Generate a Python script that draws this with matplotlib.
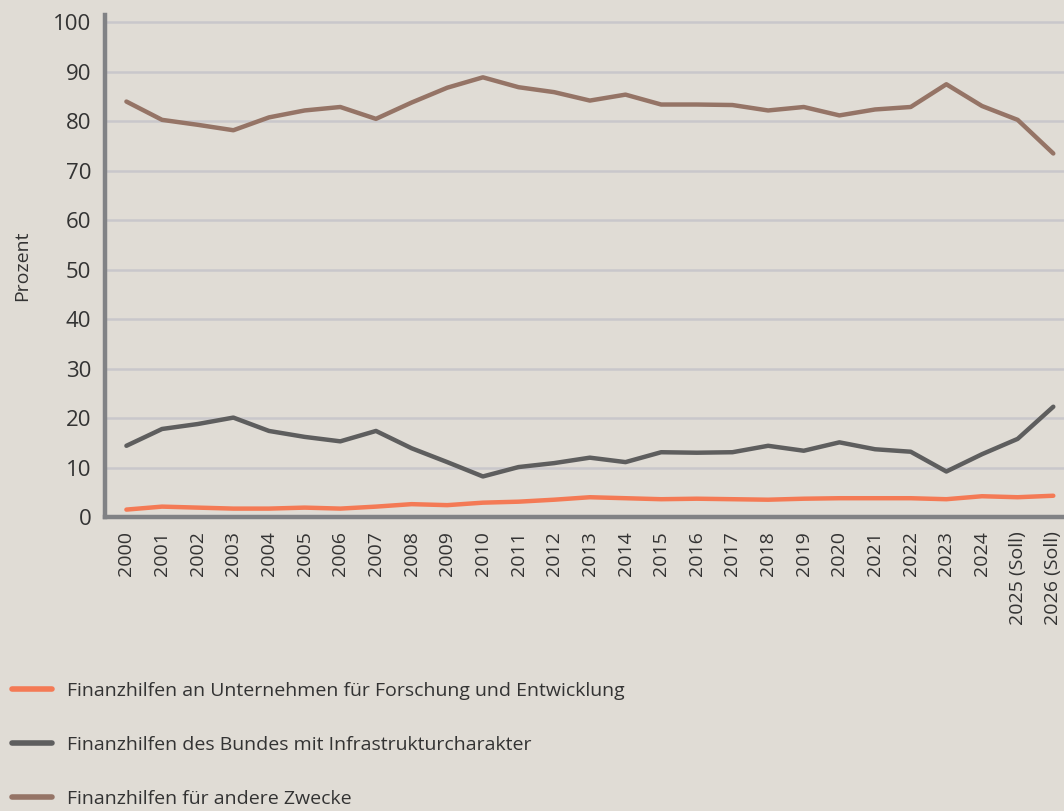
import matplotlib.pyplot as plt
from matplotlib.lines import Line2D

# Anteile der Finanzhilfen in Prozent
jahre = [str(j) for j in range(2000, 2025)] + ['2025 (Soll)', '2026 (Soll)']
forschung = [1.5, 2.1, 1.9, 1.7, 1.7, 1.9, 1.7, 2.1, 2.6, 2.4, 2.9, 3.1, 3.5,
             4.0, 3.8, 3.6, 3.7, 3.6, 3.5, 3.7, 3.8, 3.8, 3.8, 3.6, 4.2, 4.0, 4.3]
infrastruktur = [14.4, 17.8, 18.8, 20.1, 17.4, 16.2, 15.3, 17.4, 13.9, 11.1, 8.2, 10.1, 10.9,
                 12.0, 11.1, 13.1, 13.0, 13.1, 14.4, 13.4, 15.1, 13.7, 13.2, 9.2, 12.7, 15.8, 22.3]
andere = [84.0, 80.3, 79.3, 78.2, 80.8, 82.2, 82.9, 80.5, 83.8, 86.8, 88.9, 86.9, 85.9,
          84.2, 85.4, 83.4, 83.4, 83.3, 82.2, 82.9, 81.2, 82.4, 82.9, 87.5, 83.1, 80.3, 73.5]
namen = ['Finanzhilfen an Unternehmen für Forschung und Entwicklung',
         'Finanzhilfen des Bundes mit Infrastrukturcharakter',
         'Finanzhilfen für andere Zwecke']
farben = ['#F47A55', '#5E5E5E', '#957466']

bg = '#E0DCD5'
fig = plt.figure(figsize=(10.64, 8.11), dpi=100, facecolor=bg)
ax = fig.add_axes([0.0987, 0.3625, 0.9013, 0.6190], facecolor=bg)

x = range(len(jahre))
for werte, farbe in zip([forschung, infrastruktur, andere], farben):
    ax.plot(x, werte, color=farbe, lw=3.2, solid_capstyle='round', zorder=3)

ax.set_ylim(0, 101.5)
ax.set_xlim(-0.6, 26.3)
ax.set_yticks(range(0, 101, 10))
ax.set_xticks(list(x))
ax.set_xticklabels(jahre, rotation=90, fontsize=14, color='#333333', family='Open Sans')
ax.tick_params(axis='both', length=0)
ax.tick_params(axis='x', pad=10)
ax.tick_params(axis='y', pad=10, labelsize=16, labelcolor='#333333')
for lab in ax.get_yticklabels():
    lab.set_family('Open Sans')
ax.grid(axis='y', color='#C9C7CB', lw=1.8, zorder=0)
for s in ['top', 'right']:
    ax.spines[s].set_visible(False)
for s in ['left', 'bottom']:
    ax.spines[s].set_color('#818285')
    ax.spines[s].set_linewidth(3.2)
ax.set_ylabel('Prozent', fontsize=14, color='#333333', family='Open Sans', labelpad=16)

# Legende unten links
handles = [Line2D([0], [0], color=f, lw=4, solid_capstyle='round') for f in farben]
leg = fig.legend(handles, namen, loc='upper left', bbox_to_anchor=(0.004, 0.169),
                 frameon=False, handlelength=2.05, handletextpad=0.8,
                 labelspacing=1.85, borderaxespad=0,
                 prop={'family': 'Open Sans', 'size': 14})
for t in leg.get_texts():
    t.set_color('#333333')

fig.savefig('out.png', dpi=100, facecolor=bg)
